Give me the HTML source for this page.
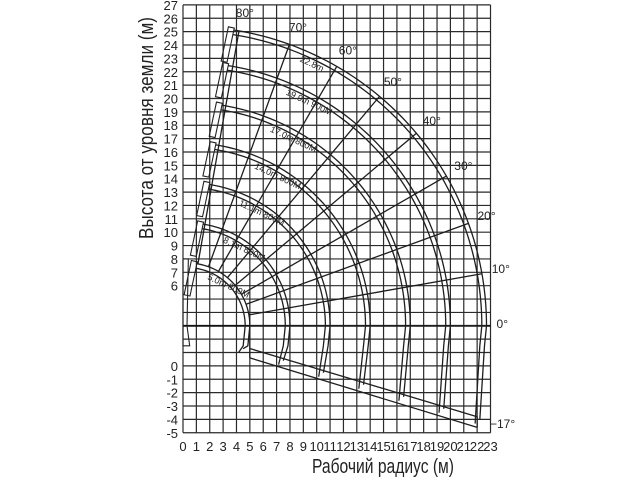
<!DOCTYPE html>
<html><head><meta charset="utf-8"><style>
html,body{margin:0;padding:0;background:#fff;width:640px;height:480px;overflow:hidden}
svg{display:block}
text{font-family:"Liberation Sans",sans-serif;fill:#222}
</style></head><body>
<svg id="s" width="640" height="480" viewBox="0 0 640 480" xmlns="http://www.w3.org/2000/svg">
<text x="0" y="0" transform="translate(153,128) rotate(-90)" font-size="20" text-anchor="middle" textLength="222" lengthAdjust="spacingAndGlyphs">Высота от уровня земли (м)</text>
<text x="383" y="473" font-size="20" text-anchor="middle" textLength="142" lengthAdjust="spacingAndGlyphs">Рабочий радиус (м)</text>
</svg>
<script>
var s=document.getElementById('s'),NS='http://www.w3.org/2000/svg';
function px(x){return 183+13.37*x}function py(y){return 365.9-13.37*y}
function el(t,a,txt){var e=document.createElementNS(NS,t);for(var k in a)e.setAttribute(k,a[k]);if(txt!=null)e.textContent=txt;s.appendChild(e);return e}
var g='#2a2a2a';
for(var i=0;i<=23;i++){el('line',{x1:px(i),x2:px(i),y1:py(27),y2:py(-5),stroke:g,'stroke-width':1.2});
 el('text',{x:px(i),y:451,'font-size':13,'text-anchor':'middle'},i);}
for(var j=-5;j<=27;j++){el('line',{x1:px(0),x2:px(23),y1:py(j),y2:py(j),stroke:g,'stroke-width':1.2});
 if(j<=0||j>=6)el('text',{x:178,y:py(j)+5,'font-size':13,'text-anchor':'end'},j);}
el('line',{x1:px(0),x2:px(23),y1:py(3),y2:py(3),stroke:'#111','stroke-width':1.8});
var cx=0.3,cy=3,R=[4.7,7.7,10.7,13.7,16.7,19.7,22.4];
function P(r,a){a=a*Math.PI/180;return [px(cx+r*Math.cos(a)),py(cy+r*Math.sin(a))]}
R.forEach(function(r,k){
 for(var d=0;d<2;d++){var rr=r-d*0.35,pts=[];
  for(var a=81;a>=0;a-=1){var p=P(rr,a);pts.push(p.join(','))}
  var xb=cx+rr-0.3, ybot=1.2-(xb-5)*0.3-0.4*d;
  pts.push(px(xb+0.15)+','+py(1.5));pts.push(px(xb-0.2)+','+py(ybot));
  el('polyline',{points:pts.join(' '),fill:'none',stroke:'#1e1e1e','stroke-width':1.3});}
 var t=P(r,81);el('rect',{x:t[0]-6,y:t[1]-2,width:6,height:35,fill:'none',stroke:'#222','stroke-width':1.1,transform:'rotate(12 '+t[0]+' '+t[1]+')'});
});
[80,70,60,50,40,30,20,10,0].forEach(function(a){var p1=P(4.7,a),p2=P(22.4,a);
 el('line',{x1:p1[0],y1:p1[1],x2:p2[0],y2:p2[1],stroke:'#1e1e1e','stroke-width':1.3});
 var l=P(23.6,a);el('text',{x:l[0]-6,y:l[1]+2,'font-size':12},a+'°');});
el('text',{x:490,y:428,'font-size':12},'−17°');
el('line',{x1:px(5),y1:py(3),x2:px(5),y2:py(0.6),stroke:'#1e1e1e','stroke-width':1.3});
el('line',{x1:px(5),y1:py(1.3),x2:px(22),y2:py(-3.8),stroke:'#1e1e1e','stroke-width':1.3});
el('line',{x1:px(5),y1:py(0.6),x2:px(22),y2:py(-4.6),stroke:'#1e1e1e','stroke-width':1.3});
el('line',{x1:px(22),y1:py(-3.8),x2:px(22),y2:py(-4.6),stroke:'#1e1e1e','stroke-width':1.3});
var labs=['5.0m 800M','8.1m 800M','11.1m 800M','14.0m 800M','17.0m 800M','19.9m 900M','22.8m'];
R.forEach(function(r,k){var p=P(r-0.9,67);el('text',{x:p[0],y:p[1],'font-size':9,transform:'rotate(25 '+p[0]+' '+p[1]+')'},labs[k]);});
el('polyline',{points:[[px(0),py(8)],[px(0.4),py(8)],[px(0.3),py(3)],[px(0.5),py(1.5)],[px(0),py(1.5)],[px(0),py(8)]].map(function(p){return p.join(',')}).join(' '),fill:'none',stroke:'#222','stroke-width':1.1});
</script>
</body></html>
